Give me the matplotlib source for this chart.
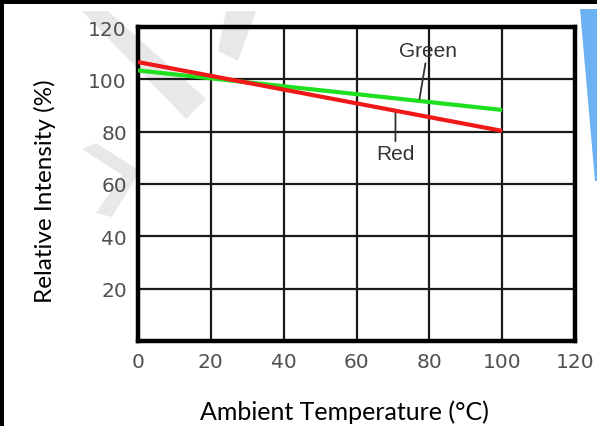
import numpy as np
import matplotlib
matplotlib.use("Agg")
import matplotlib.pyplot as plt
from matplotlib.patches import Rectangle, Polygon

# Data (relative intensity vs ambient temperature)
temp = [0, 100]
red_intensity = [106.6, 80.3]
green_intensity = [103.4, 88.3]

x_ticks = [0, 20, 40, 60, 80, 100, 120]
y_ticks = [20, 40, 60, 80, 100, 120]

W, H = 597, 427
fig = plt.figure(figsize=(W / 100, H / 100), dpi=100)
fig.patch.set_facecolor("white")


def px(x, y):
    # pixel coords (top-left origin) -> figure fraction
    return (x / W, 1 - y / H)


# faint watermark strokes behind the chart
marks = [
    [(82, 12), (108, 12), (206, 100), (186, 120)],
    [(226, 12), (256, 12), (238, 62), (218, 52)],
    [(82, 150), (96, 144), (140, 172), (112, 218), (96, 214), (122, 176)],
]
for m in marks:
    fig.patches.append(Polygon([px(*p) for p in m], closed=True,
                               transform=fig.transFigure, facecolor="#e8e8e8",
                               edgecolor="none", zorder=0))

# blue wedge at the right edge
fig.patches.append(Polygon([px(580, 10), px(597, 10), px(597, 182), px(595, 182)],
                           closed=True, transform=fig.transFigure,
                           facecolor="#6cb2f2", edgecolor="none", zorder=0))

# black frame on top and left
fig.patches.append(Rectangle((0, 1 - 5 / H), 1, 5 / H, transform=fig.transFigure,
                             facecolor="black", edgecolor="none", zorder=5))
fig.patches.append(Rectangle((0, 0), 4 / W, 1, transform=fig.transFigure,
                             facecolor="black", edgecolor="none", zorder=5))

ax = fig.add_axes([138 / W, 1 - 342 / H, (575 - 138) / W, (342 - 28) / H])
ax.set_facecolor("none")
ax.set_zorder(2)

ax.plot(temp, green_intensity, color="#1ee01e", lw=3, solid_capstyle="butt", zorder=3)
ax.plot(temp, red_intensity, color="#f01818", lw=3, solid_capstyle="butt", zorder=4)

ax.set_xlim(0, 120)
ax.set_ylim(0, 120)
ax.set_xticks(x_ticks)
ax.set_yticks(y_ticks)
ax.grid(True, color="#1a1a1a", lw=1.6)
ax.set_axisbelow(True)
for s in ax.spines.values():
    s.set_linewidth(3.2)
    s.set_color("black")
ax.tick_params(length=0, labelsize=14.5, labelcolor="#505050", pad=8)
for lbl in ax.get_xticklabels() + ax.get_yticklabels():
    lbl.set_family("DejaVu Sans")

# callouts
ax.annotate("Green", xy=(77.3, 92.5), xytext=(79.5, 107.2),
            ha="center", va="bottom", fontsize=15, color="#333333",
            family="Liberation Sans",
            arrowprops=dict(arrowstyle="-", color="#333333", lw=1.3,
                            shrinkA=0, shrinkB=0))
ax.annotate("Red", xy=(70.7, 87.9), xytext=(70.7, 75.3),
            ha="center", va="top", fontsize=15, color="#333333",
            family="Liberation Sans",
            arrowprops=dict(arrowstyle="-", color="#333333", lw=1.3,
                            shrinkA=0, shrinkB=0))

fig.text(*px(344, 412), "Ambient Temperature (\u00b0C)", ha="center", va="center",
         fontsize=18, family="Lato", color="black")
fig.text(*px(45, 191), "Relative Intensity (%)", ha="center", va="center",
         rotation=90, fontsize=17.5, family="Lato", color="black")

fig.savefig("out.png", dpi=100)
